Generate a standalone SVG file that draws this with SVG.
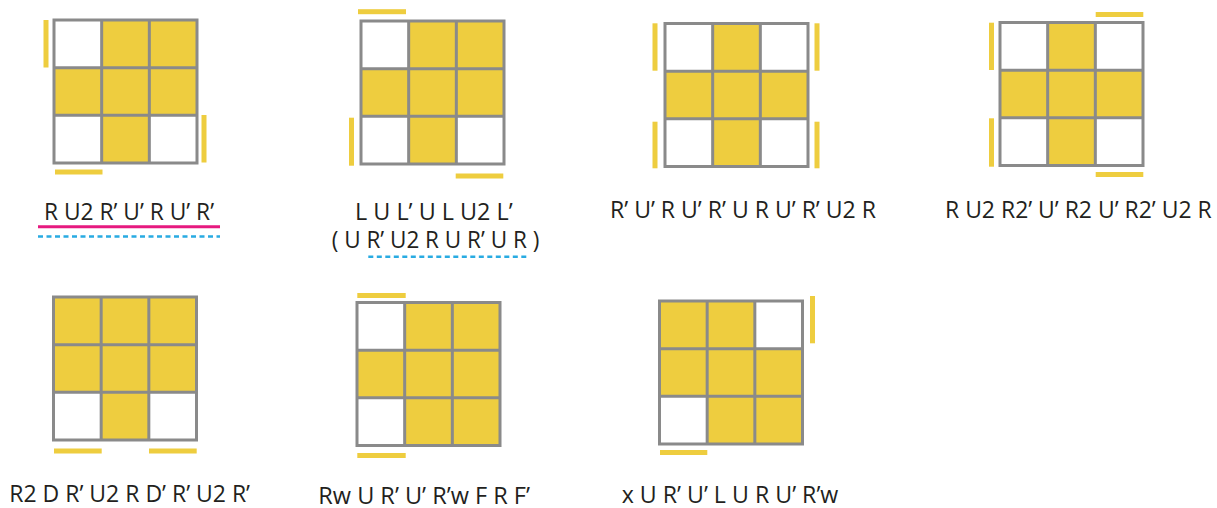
<svg xmlns="http://www.w3.org/2000/svg" width="1217" height="508" viewBox="0 0 1217 508">
<style>
.y{fill:#eecd3f}
.w{fill:#ffffff}
.g{fill:none;stroke:#8a8a8a;stroke-width:3}
.bar{fill:#eecd3f}
.t{font-family:"Open Sans","Noto Sans",sans-serif;font-size:23px;fill:#231f20}
.pink{stroke:#e6197f;stroke-width:3}
.blue{stroke:#29abe2;stroke-width:2.5;stroke-dasharray:5 3.5}
</style>
<defs>
<path id="grid" class="g" d="M0,0H143V143H0Z M47.67,0V143 M95.33,0V143 M0,47.67H143 M0,95.33H143"/>
</defs>
<rect width="1217" height="508" fill="#ffffff"/>

<g id="case1">
<g transform="translate(54,20)">
<rect class="w" x="0" y="0" width="47.67" height="47.67"/><rect class="y" x="47.67" y="0" width="47.67" height="47.67"/><rect class="y" x="95.33" y="0" width="47.67" height="47.67"/>
<rect class="y" x="0" y="47.67" width="47.67" height="47.67"/><rect class="y" x="47.67" y="47.67" width="47.67" height="47.67"/><rect class="y" x="95.33" y="47.67" width="47.67" height="47.67"/>
<rect class="w" x="0" y="95.33" width="47.67" height="47.67"/><rect class="y" x="47.67" y="95.33" width="47.67" height="47.67"/><rect class="w" x="95.33" y="95.33" width="47.67" height="47.67"/>
<use href="#grid"/>
</g>
<rect class="bar" x="43.5" y="20" width="5" height="47.5"/>
<rect class="bar" x="201.5" y="115" width="5" height="47.5"/>
<rect class="bar" x="55" y="169.5" width="47.5" height="5"/>
<text class="t" x="44" y="219.5" textLength="170" lengthAdjust="spacingAndGlyphs">R U2 R’ U’ R U’ R’</text>
</g>

<g id="case2">
<g transform="translate(361,21)">
<rect class="w" x="0" y="0" width="47.67" height="47.67"/><rect class="y" x="47.67" y="0" width="47.67" height="47.67"/><rect class="y" x="95.33" y="0" width="47.67" height="47.67"/>
<rect class="y" x="0" y="47.67" width="47.67" height="47.67"/><rect class="y" x="47.67" y="47.67" width="47.67" height="47.67"/><rect class="y" x="95.33" y="47.67" width="47.67" height="47.67"/>
<rect class="w" x="0" y="95.33" width="47.67" height="47.67"/><rect class="y" x="47.67" y="95.33" width="47.67" height="47.67"/><rect class="w" x="95.33" y="95.33" width="47.67" height="47.67"/>
<use href="#grid"/>
</g>
<rect class="bar" x="358" y="9.2" width="48" height="5"/>
<rect class="bar" x="349" y="117.7" width="5" height="48"/>
<rect class="bar" x="455.7" y="173.5" width="47.6" height="5"/>
<text class="t" x="355" y="219.5" textLength="157.7" lengthAdjust="spacingAndGlyphs">L U L’ U L U2 L’</text>
<text class="t" x="331.7" y="248" textLength="207.6" lengthAdjust="spacingAndGlyphs">( U R’ U2 R U R’ U R )</text>
</g>

<g id="case3">
<g transform="translate(665,23.5)">
<rect class="w" x="0" y="0" width="47.67" height="47.67"/><rect class="y" x="47.67" y="0" width="47.67" height="47.67"/><rect class="w" x="95.33" y="0" width="47.67" height="47.67"/>
<rect class="y" x="0" y="47.67" width="47.67" height="47.67"/><rect class="y" x="47.67" y="47.67" width="47.67" height="47.67"/><rect class="y" x="95.33" y="47.67" width="47.67" height="47.67"/>
<rect class="w" x="0" y="95.33" width="47.67" height="47.67"/><rect class="y" x="47.67" y="95.33" width="47.67" height="47.67"/><rect class="w" x="95.33" y="95.33" width="47.67" height="47.67"/>
<use href="#grid"/>
</g>
<rect class="bar" x="652.5" y="23.3" width="5" height="47.4"/>
<rect class="bar" x="652.5" y="121.7" width="5" height="46.6"/>
<rect class="bar" x="814.5" y="23.3" width="5" height="47.4"/>
<rect class="bar" x="814.5" y="121.7" width="5" height="46.6"/>
<text class="t" x="610" y="218.3" textLength="266" lengthAdjust="spacingAndGlyphs">R’ U’ R U’ R’ U R U’ R’ U2 R</text>
</g>

<g id="case4">
<g transform="translate(1000,22.5)">
<rect class="w" x="0" y="0" width="47.67" height="47.67"/><rect class="y" x="47.67" y="0" width="47.67" height="47.67"/><rect class="w" x="95.33" y="0" width="47.67" height="47.67"/>
<rect class="y" x="0" y="47.67" width="47.67" height="47.67"/><rect class="y" x="47.67" y="47.67" width="47.67" height="47.67"/><rect class="y" x="95.33" y="47.67" width="47.67" height="47.67"/>
<rect class="w" x="0" y="95.33" width="47.67" height="47.67"/><rect class="y" x="47.67" y="95.33" width="47.67" height="47.67"/><rect class="w" x="95.33" y="95.33" width="47.67" height="47.67"/>
<use href="#grid"/>
</g>
<rect class="bar" x="1095.7" y="12" width="47.6" height="5"/>
<rect class="bar" x="1095.7" y="172" width="47.6" height="5"/>
<rect class="bar" x="989" y="22.7" width="5" height="47.3"/>
<rect class="bar" x="989" y="118.3" width="5" height="48.4"/>
<text class="t" x="945" y="218.3" textLength="266.7" lengthAdjust="spacingAndGlyphs">R U2 R2’ U’ R2 U’ R2’ U2 R</text>
</g>

<g id="case5">
<g transform="translate(53.5,297)">
<rect class="y" x="0" y="0" width="47.67" height="47.67"/><rect class="y" x="47.67" y="0" width="47.67" height="47.67"/><rect class="y" x="95.33" y="0" width="47.67" height="47.67"/>
<rect class="y" x="0" y="47.67" width="47.67" height="47.67"/><rect class="y" x="47.67" y="47.67" width="47.67" height="47.67"/><rect class="y" x="95.33" y="47.67" width="47.67" height="47.67"/>
<rect class="w" x="0" y="95.33" width="47.67" height="47.67"/><rect class="y" x="47.67" y="95.33" width="47.67" height="47.67"/><rect class="w" x="95.33" y="95.33" width="47.67" height="47.67"/>
<use href="#grid"/>
</g>
<rect class="bar" x="54" y="448.5" width="47.7" height="5"/>
<rect class="bar" x="149" y="448.5" width="47.7" height="5"/>
<text class="t" x="9.3" y="501.7" textLength="240.7" lengthAdjust="spacingAndGlyphs">R2 D R’ U2 R D’ R’ U2 R’</text>
</g>

<g id="case6">
<g transform="translate(357,302.5)">
<rect class="w" x="0" y="0" width="47.67" height="47.67"/><rect class="y" x="47.67" y="0" width="47.67" height="47.67"/><rect class="y" x="95.33" y="0" width="47.67" height="47.67"/>
<rect class="y" x="0" y="47.67" width="47.67" height="47.67"/><rect class="y" x="47.67" y="47.67" width="47.67" height="47.67"/><rect class="y" x="95.33" y="47.67" width="47.67" height="47.67"/>
<rect class="w" x="0" y="95.33" width="47.67" height="47.67"/><rect class="y" x="47.67" y="95.33" width="47.67" height="47.67"/><rect class="y" x="95.33" y="95.33" width="47.67" height="47.67"/>
<use href="#grid"/>
</g>
<rect class="bar" x="357.3" y="293" width="48.4" height="5"/>
<rect class="bar" x="357.3" y="453" width="48.4" height="5"/>
<text class="t" x="318.3" y="504" textLength="211.7" lengthAdjust="spacingAndGlyphs">Rw U R’ U’ R’w F R F’</text>
</g>

<g id="case7">
<g transform="translate(659.5,301)">
<rect class="y" x="0" y="0" width="47.67" height="47.67"/><rect class="y" x="47.67" y="0" width="47.67" height="47.67"/><rect class="w" x="95.33" y="0" width="47.67" height="47.67"/>
<rect class="y" x="0" y="47.67" width="47.67" height="47.67"/><rect class="y" x="47.67" y="47.67" width="47.67" height="47.67"/><rect class="y" x="95.33" y="47.67" width="47.67" height="47.67"/>
<rect class="w" x="0" y="95.33" width="47.67" height="47.67"/><rect class="y" x="47.67" y="95.33" width="47.67" height="47.67"/><rect class="y" x="95.33" y="95.33" width="47.67" height="47.67"/>
<use href="#grid"/>
</g>
<rect class="bar" x="810" y="296" width="5" height="47.3"/>
<rect class="bar" x="660" y="450" width="47.3" height="5"/>
<text class="t" x="621.7" y="502.7" textLength="216.6" lengthAdjust="spacingAndGlyphs">x U R’ U’ L U R U’ R’w</text>
</g>

<g id="connectors">
<line class="pink" x1="38" y1="226.7" x2="220" y2="226.7"/>
<line class="blue" x1="38" y1="236.5" x2="220" y2="236.5"/>
<line class="blue" x1="368.3" y1="256.7" x2="526.7" y2="256.7"/>
</g>
</svg>
